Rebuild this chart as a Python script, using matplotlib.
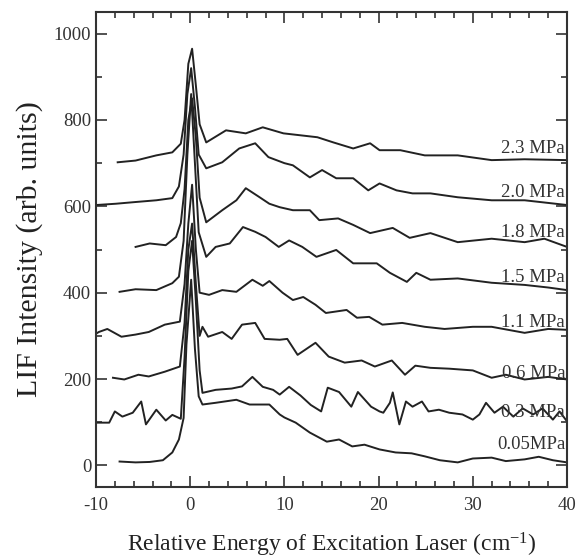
import numpy as np
import matplotlib
matplotlib.use('Agg')
import matplotlib.pyplot as plt

plt.rcParams['font.family'] = ['Liberation Serif', 'DejaVu Serif']
plt.rcParams['mathtext.default'] = 'regular'
plt.rcParams['axes.unicode_minus'] = False

# traces (x in cm^-1, y in arb. units)
x_005 = [-7.5,-5.8,-4.3,-2.9,-1.9,-1.2,-0.7,-0.4,0.1,0.5,0.9,1.3,2.7,4.9,6.3,8.4,9.5,10.0,11.2,12.7,14.5,15.8,17.2,18.5,20.1,21.8,23.5,24.9,26.5,28.4,30,32,33.5,35.5,37,38.5,40]
y_005 = [9,7,8,12,30,60,110,280,430,270,160,141,145,152,141,141,118,111,99,76,55,60,44,48,37,30,28,21,12,7,16,18,10,14,20,12,7]

x_03 = [-10,-8.6,-8,-7.2,-6.1,-5.2,-4.7,-3.6,-2.6,-1.9,-1,-0.6,-0.2,0.2,0.6,1.0,1.3,2.7,4.4,5.5,
        6.6,7.7,8.8,9.5,10.5,11.7,12.8,13.9,14.6,15.8,17.1,17.8,19.2,20.1,20.5,21.2,21.5,22.2,22.9,23.6,
        24.6,25.3,26.4,27.5,28.9,30,30.7,31.4,32.3,33.2,34.3,35.3,36.4,37.4,38.5,39.2,40]
y_03 = [99,99,125,113,122,148,95,129,104,117,108,250,450,520,380,220,168,175,178,183,
        205,182,175,164,182,162,140,125,180,170,136,170,136,125,122,145,169,95,148,136,
        148,125,129,122,118,106,118,145,122,136,113,132,118,132,106,125,102]

x_06 = [-8.2,-7,-5.5,-4.4,-2.7,-1.1,-0.6,-0.2,0.2,0.6,1.0,1.3,1.9,3.4,4.4,5.5,6.9,7.9,9.5,10.3,
        11.4,13.3,14.7,16.4,18.2,19.6,21.4,22.8,23.9,25.5,27.5,30,32,33.5,35.5,38,40]
y_06 = [203,199,210,206,217,229,330,500,560,420,300,321,298,309,293,326,330,293,291,293,
        256,284,252,238,243,229,243,210,231,226,224,220,203,210,199,205,199]

x_11 = [-10,-9.7,-8.8,-7.3,-5.8,-4.4,-2.7,-1.1,-0.6,-0.2,0.2,0.6,1.0,2.0,3.4,4.9,6.6,7.7,8.4,9.8,
        10.9,12.0,13.3,14.4,16.6,17.7,19.0,20.4,22.5,24.9,27,30,32,35.5,38,40]
y_11 = [305,309,316,298,303,309,326,333,420,560,650,500,400,395,406,402,430,416,427,400,
        383,390,372,353,360,342,344,326,330,321,316,321,321,307,316,314]

x_15 = [-7.5,-5.8,-3.6,-1.9,-1.2,-0.7,-0.3,0.1,0.5,0.9,1.7,2.7,4.2,5.6,6.9,8.0,9.4,10.5,11.9,13.4,
        15.5,17.3,19.8,21.2,23,24,25.5,28.4,32,35.5,38,40]
y_15 = [402,408,406,422,437,520,720,860,700,540,483,506,514,552,541,529,506,521,506,483,
        499,468,468,446,425,446,430,433,423,418,412,406]

x_18 = [-5.8,-4.3,-2.6,-1.5,-1.0,-0.6,-0.2,0.2,0.6,1.0,1.7,3.4,4.9,5.9,7.3,8.4,9.5,10.9,12.7,13.7,
        15.7,17.3,19.1,21.5,23.3,25.5,28.4,32,35.5,37.6,40]
y_18 = [506,514,510,529,561,640,800,850,760,620,563,591,614,642,622,606,598,591,591,568,
        572,557,538,550,527,538,517,525,517,525,506]

x_20 = [-10,-7.9,-5.8,-3.6,-1.9,-1.2,-0.7,-0.3,0.1,0.5,0.9,1.7,3.4,5.2,6.9,8.3,10.0,10.9,12.7,14,
        15.5,17.3,18.9,20.1,21.9,23.6,25.5,28.4,32,35.5,40]
y_20 = [603,606,610,614,619,646,720,860,920,830,720,688,702,734,746,714,700,695,667,684,
        665,665,637,653,637,630,630,621,614,614,603]

x_23 = [-7.7,-5.8,-3.6,-1.9,-1.0,-0.6,-0.2,0.2,0.6,1.0,1.7,3.8,5.9,7.7,9.9,11.5,13.5,15.2,17.3,19.1,
        20.1,22.3,24.9,28.4,32,35.5,40]
y_23 = [702,706,718,725,745,800,930,965,880,790,748,776,769,783,769,765,760,748,734,746,
        730,730,718,718,707,709,707]

labels = ['0.05MPa', '0.3 MPa', '0.6 MPa', '1.1 MPa', '1.5 MPa', '1.8 MPa', '2.0 MPa', '2.3 MPa']
label_y = [37, 111, 203, 321, 425, 529, 621, 723]

traces = [(x_005, y_005), (x_03, y_03), (x_06, y_06), (x_11, y_11),
          (x_15, y_15), (x_18, y_18), (x_20, y_20), (x_23, y_23)]

fig = plt.figure(figsize=(5.77, 5.59), dpi=100)
ax = fig.add_axes([0.1664, 0.1288, 0.8163, 0.8497])

for (xs, ys), lab, ly in zip(traces, labels, label_y):
    ax.plot(xs, ys, color='#222222', lw=1.4)
    ax.text(39.8, ly, lab, ha='right', va='baseline', fontsize=13.5, color='#333333')

ax.set_xlim(-10, 40)
ax.set_ylim(-50, 1050)
ax.set_xticks([-10, 0, 10, 20, 30, 40])
ax.set_yticks([0, 200, 400, 600, 800, 1000])
ax.set_xticks(np.arange(-10, 41, 2), minor=True)
ax.set_yticks(np.arange(0, 1001, 100), minor=True)
ax.tick_params(which='both', direction='in', top=True, right=True, width=1.2, labelsize=13.5,
               colors='#333333')
ax.tick_params(which='major', length=8)
ax.tick_params(which='minor', length=4)
ax.tick_params(axis='x', pad=7)
for s in ax.spines.values():
    s.set_linewidth(1.5)
    s.set_color('#333333')

ax.set_ylabel('LIF Intensity (arb. units)', fontsize=21.5, labelpad=8, color='#222222')
ax.set_xlabel('Relative Energy of Excitation Laser (cm$^{-1}$)', fontsize=17, labelpad=12,
              color='#222222')

fig.savefig('out.png', dpi=100)
